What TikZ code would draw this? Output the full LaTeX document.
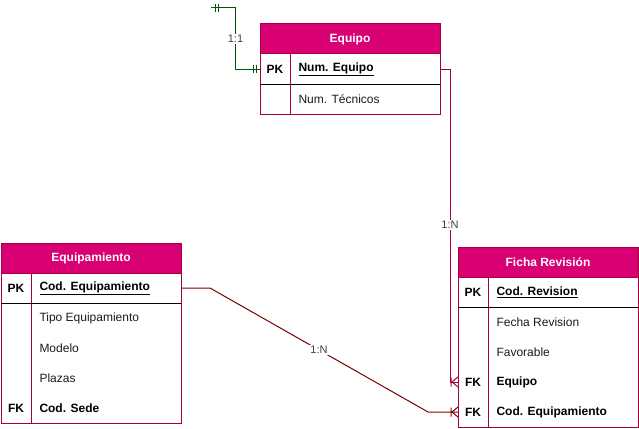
\documentclass[tikz,border=0pt]{standalone}
\usepackage{fontspec}
\setmainfont{Liberation Sans}
\definecolor{hdr}{HTML}{D80073}
\definecolor{brd}{HTML}{A50040}
\definecolor{relA}{HTML}{A50040}
\definecolor{relB}{HTML}{7A0000}
\definecolor{grn}{HTML}{005700}
\definecolor{lbl}{HTML}{404040}
\definecolor{txt}{HTML}{1A1A1A}
\begin{document}
\begin{tikzpicture}[x=1pt,y=-1pt,line width=1pt,
  header/.style={draw=brd,fill=hdr,text=white,font=\fontsize{12}{14}\selectfont\bfseries,
    minimum width=180pt,minimum height=30pt,inner sep=0pt,outer sep=0pt,anchor=north west},
  row/.style={minimum width=180pt,minimum height=30pt,inner sep=0pt,outer sep=0pt,anchor=north west},
  keytxt/.style={font=\fontsize{12}{14}\selectfont\bfseries,text=black,inner sep=0pt},
  fldtxt/.style={font=\fontsize{12}{14}\selectfont,text=txt,inner sep=0pt,anchor=west},
  fldbold/.style={font=\fontsize{12}{14}\selectfont\bfseries,text=black,inner sep=0pt,anchor=west},
  rellabel/.style={font=\fontsize{11}{13}\selectfont,text=lbl,fill=white,inner sep=1pt},
  crow/.pic={\draw[line width=1pt] (-6,0) -- (0,-5) (-6,0) -- (0,5) (-7,-4.5) -- (-7,4.5);},
]
\useasboundingbox (0,0) rectangle (639,428);

% ---------- Equipo ----------
\node[header] (eqh) at (260,24) {Equipo};
\node[row] (eqr1) at (260,54) {};
\node[row] (eqr2) at (260,84) {};
\draw[brd] (eqh.south west) rectangle (eqr2.south east);
\draw[brd] ([xshift=30pt]eqr1.north west) -- ([xshift=30pt]eqr2.south west);
\draw[black] (eqr1.south west) -- (eqr1.south east);
\node[keytxt] (eqk1) at ([xshift=15pt]eqr1.west) {PK};
\node[fldbold] (eqf1) at ([xshift=38pt]eqr1.west) {\underline{Num. Equipo}};
\node[fldtxt] (eqf2) at ([xshift=38pt]eqr2.west) {Num. Técnicos};

% ---------- Equipamiento ----------
\node[header] (emh) at (1,243) {Equipamiento};
\node[row] (emr1) at (1,273) {};
\node[row] (emr2) at (1,303) {};
\node[row] (emr3) at (1,333) {};
\node[row] (emr4) at (1,363) {};
\node[row] (emr5) at (1,393) {};
\draw[brd] (emh.south west) rectangle (emr5.south east);
\draw[brd] ([xshift=30pt]emr1.north west) -- ([xshift=30pt]emr5.south west);
\draw[black] (emr1.south west) -- (emr1.south east);
\node[keytxt] (emk1) at ([xshift=15pt]emr1.west) {PK};
\node[fldbold] (emf1) at ([xshift=38pt]emr1.west) {\underline{Cod. Equipamiento}};
\node[fldtxt] (emf2) at ([xshift=38pt]emr2.west) {Tipo Equipamiento};
\node[fldtxt] (emf3) at ([xshift=38pt]emr3.west) {Modelo};
\node[fldtxt] (emf4) at ([xshift=38pt]emr4.west) {Plazas};
\node[keytxt] (emk5) at ([xshift=15pt]emr5.west) {FK};
\node[fldbold] (emf5) at ([xshift=38pt]emr5.west) {Cod. Sede};

% ---------- Ficha Revision ----------
\node[header] (frh) at (458,247) {Ficha Revisión};
\node[row] (frr1) at (458,277) {};
\node[row] (frr2) at (458,307) {};
\node[row] (frr3) at (458,337) {};
\node[row] (frr4) at (458,367) {};
\node[row] (frr5) at (458,397) {};
\draw[brd] (frh.south west) rectangle (frr5.south east);
\draw[brd] ([xshift=30pt]frr1.north west) -- ([xshift=30pt]frr5.south west);
\draw[black] (frr1.south west) -- (frr1.south east);
\node[keytxt] (frk1) at ([xshift=15pt]frr1.west) {PK};
\node[fldbold] (frf1) at ([xshift=38pt]frr1.west) {\underline{Cod. Revision}};
\node[fldtxt] (frf2) at ([xshift=38pt]frr2.west) {Fecha Revision};
\node[fldtxt] (frf3) at ([xshift=38pt]frr3.west) {Favorable};
\node[keytxt] (frk4) at ([xshift=15pt]frr4.west) {FK};
\node[fldbold] (frf4) at ([xshift=38pt]frr4.west) {Equipo};
\node[keytxt] (frk5) at ([xshift=15pt]frr5.west) {FK};
\node[fldbold] (frf5) at ([xshift=38pt]frr5.west) {Cod. Equipamiento};

% ---------- Connectors ----------
% 1:1 (green) self-like relation
\coordinate (g0) at (211,8);
\draw[grn] (g0) -- ++(24.5,0) |- (eqr1.west);
\draw[grn] ([xshift=4pt]g0) ++(0,-4) -- ++(0,8);
\draw[grn] ([xshift=7pt]g0) ++(0,-4) -- ++(0,8);
\draw[grn] ([xshift=-7pt]eqr1.west) ++(0,-4) -- ++(0,8);
\draw[grn] ([xshift=-3.5pt]eqr1.west) ++(0,-4) -- ++(0,8);
\node[rellabel] (l11) at (235.5,39) {1:1};

% Equipo -> Ficha Revision (1:N)
\draw[relA] (eqr1.east) -- ++(10,0) |- (frr4.west);
\pic[relA] at (frr4.west) {crow};
\node[rellabel] (l1n) at (450,225) {1:N};

% Equipamiento -> Ficha Revision (1:N)
\draw[relB] (emr1.east) -- ++(29,0) -- ([xshift=-30pt]frr5.west)
  node[rellabel,pos=0.5] (l2n) {1:N} -- (frr5.west);
\pic[relB] at (frr5.west) {crow};
\end{tikzpicture}
\end{document}
